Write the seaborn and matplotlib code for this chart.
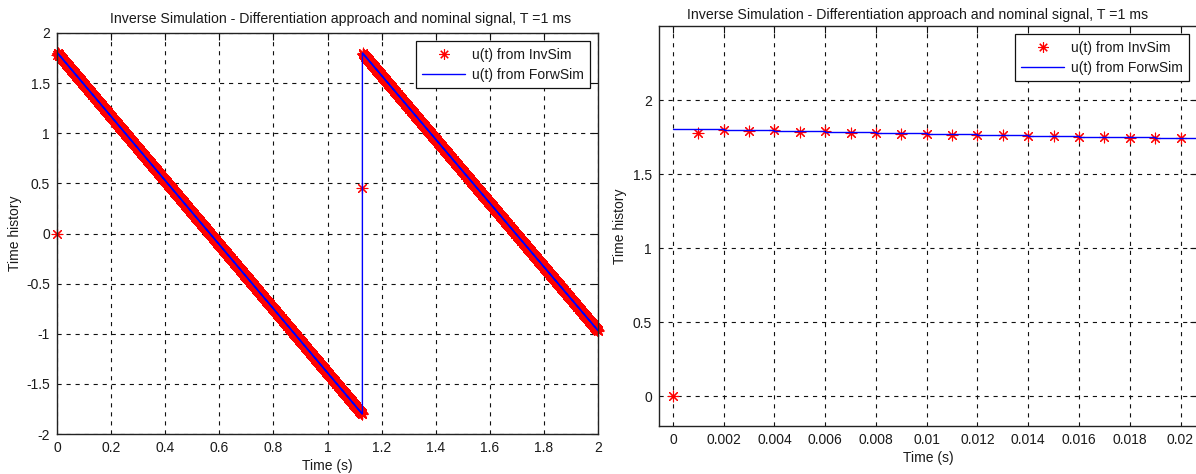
import numpy as np
import pandas as pd
import matplotlib
matplotlib.use("Agg")
import matplotlib.pyplot as plt
import seaborn as sns
from matplotlib.lines import Line2D

# ---- data -------------------------------------------------------------
T = 0.001                                 # sample period (s)
t_end = 2.0

# nominal sawtooth: two linear ramps (start/end time and value)
ramp_t_start = [0.000, 1.129]
ramp_t_end = [1.128, 2.000]
ramp_u_start = [1.805, 1.800]
ramp_u_end = [-1.800, -0.970]

# first 21 inverse-simulation samples (t = 0 ... 0.020 s)
inv_head = [0.000, 1.776, 1.796, 1.794, 1.796, 1.787, 1.791, 1.780, 1.778,
            1.771, 1.774, 1.767, 1.767, 1.762, 1.760, 1.758, 1.751, 1.751,
            1.747, 1.747, 1.744]
# single transition sample of the inverse solution at the reset
inv_spike_t = 1.129
inv_spike_u = 0.45

title = "Inverse Simulation - Differentiation approach and nominal signal, T =1 ms"
xlabel = "Time (s)"
ylabel = "Time history"
legend_labels = ["u(t) from InvSim", "u(t) from ForwSim"]

left_xticks = [0, 0.2, 0.4, 0.6, 0.8, 1, 1.2, 1.4, 1.6, 1.8, 2]
left_xticklabels = ["0", "0.2", "0.4", "0.6", "0.8", "1", "1.2", "1.4", "1.6", "1.8", "2"]
left_yticks = [-2, -1.5, -1, -0.5, 0, 0.5, 1, 1.5, 2]
left_yticklabels = ["-2", "-1.5", "-1", "-0.5", "0", "0.5", "1", "1.5", "2"]
right_xticks = [0, 0.002, 0.004, 0.006, 0.008, 0.01, 0.012, 0.014, 0.016, 0.018, 0.02]
right_xticklabels = ["0", "0.002", "0.004", "0.006", "0.008", "0.01", "0.012",
                     "0.014", "0.016", "0.018", "0.02"]
right_yticks = [0, 0.5, 1, 1.5, 2]
right_yticklabels = ["0", "0.5", "1", "1.5", "2"]

# ---- build sampled series --------------------------------------------
t = np.round(np.arange(0, t_end + T / 2, T), 3)
seg1 = np.interp(t, [ramp_t_start[0], ramp_t_end[0]], [ramp_u_start[0], ramp_u_end[0]])
seg2 = np.interp(t, [ramp_t_start[1], ramp_t_end[1]], [ramp_u_start[1], ramp_u_end[1]])
u_fwd = np.where(t <= ramp_t_end[0], seg1, seg2)
u_inv = u_fwd.copy()
u_inv[:len(inv_head)] = inv_head
u_inv[np.isclose(t, inv_spike_t)] = inv_spike_u

df = pd.DataFrame({"t": t, "inv": u_inv, "fwd": u_fwd})

# ---- style ------------------------------------------------------------
sns.set_style("white")
plt.rcParams["font.family"] = ["Liberation Sans", "DejaVu Sans"]
plt.rcParams["axes.unicode_minus"] = False
plt.rcParams["lines.scale_dashes"] = False

W, H = 1196, 474
fig = plt.figure(figsize=(W / 100, H / 100), dpi=100)
fig.patch.set_facecolor("white")

axL = fig.add_axes([57 / W, (H - 434) / H, 541 / W, 401 / H])
axR = fig.add_axes([659 / W, (H - 426) / H, 538 / W, 400 / H])

star = (8, 2, 0)
text_color = "#1a1a1a"


def draw(ax, clip):
    sns.scatterplot(data=df, x="t", y="inv", ax=ax, marker=star, s=60,
                    linewidth=0.8, color="#ff0000", clip_on=clip, zorder=3,
                    legend=False)
    sns.lineplot(data=df, x="t", y="fwd", ax=ax, estimator=None, sort=False,
                 drawstyle="steps-post", color="#0000ff", linewidth=1.0, zorder=4)


def finish(ax, xlim, ylim, xt, xtl, yt, ytl, title_x, title_pad, ylab_x, xlab_y):
    ax.set_xlim(*xlim)
    ax.set_ylim(*ylim)
    ax.set_xticks(xt)
    ax.set_xticklabels(xtl)
    ax.set_yticks(yt)
    ax.set_yticklabels(ytl)
    ax.tick_params(direction="in", length=5, width=0.8, color="#111111",
                   top=True, right=True, labelsize=10, labelcolor=text_color, pad=5)
    ax.grid(True, color="#111111", linestyle=(0, (3, 3.5)), linewidth=0.8)
    ax.set_axisbelow(True)
    for s in ax.spines.values():
        s.set_visible(True)
        s.set_color("#222222")
        s.set_linewidth(1.0)
        s.set_zorder(5)
    ax.set_title(title, fontsize=10.2, color=text_color, x=title_x, pad=title_pad)
    ax.set_xlabel(xlabel, fontsize=10, color=text_color)
    ax.set_ylabel(ylabel, fontsize=10, color=text_color)
    ax.yaxis.set_label_coords(ylab_x, 0.5)
    ax.xaxis.set_label_coords(0.5, xlab_y)
    handles = [
        Line2D([], [], linestyle="", marker=star, markersize=7.5,
               markeredgewidth=0.8, color="#ff0000"),
        Line2D([], [], color="#0000ff", linewidth=1.0),
    ]
    leg = ax.legend(handles, legend_labels, loc="upper right", fontsize=10,
                    frameon=True, fancybox=False, framealpha=1, edgecolor="#111111",
                    borderaxespad=0.6, borderpad=0.45, labelspacing=0.45,
                    handlelength=3.1, handletextpad=0.45, numpoints=1)
    leg.get_frame().set_linewidth(0.9)
    leg.set_zorder(10)
    for txt in leg.get_texts():
        txt.set_color(text_color)


draw(axL, clip=False)
finish(axL, (0, 2), (-2, 2), left_xticks, left_xticklabels,
       left_yticks, left_yticklabels, title_x=0.525, title_pad=7,
       ylab_x=-0.065, xlab_y=-0.062)

draw(axR, clip=True)
finish(axR, (-0.00055, 0.02065), (-0.2, 2.5), right_xticks, right_xticklabels,
       right_yticks, right_yticklabels, title_x=0.48, title_pad=5,
       ylab_x=-0.06, xlab_y=-0.0625)

fig.savefig("out.png", dpi=100, facecolor="white")
